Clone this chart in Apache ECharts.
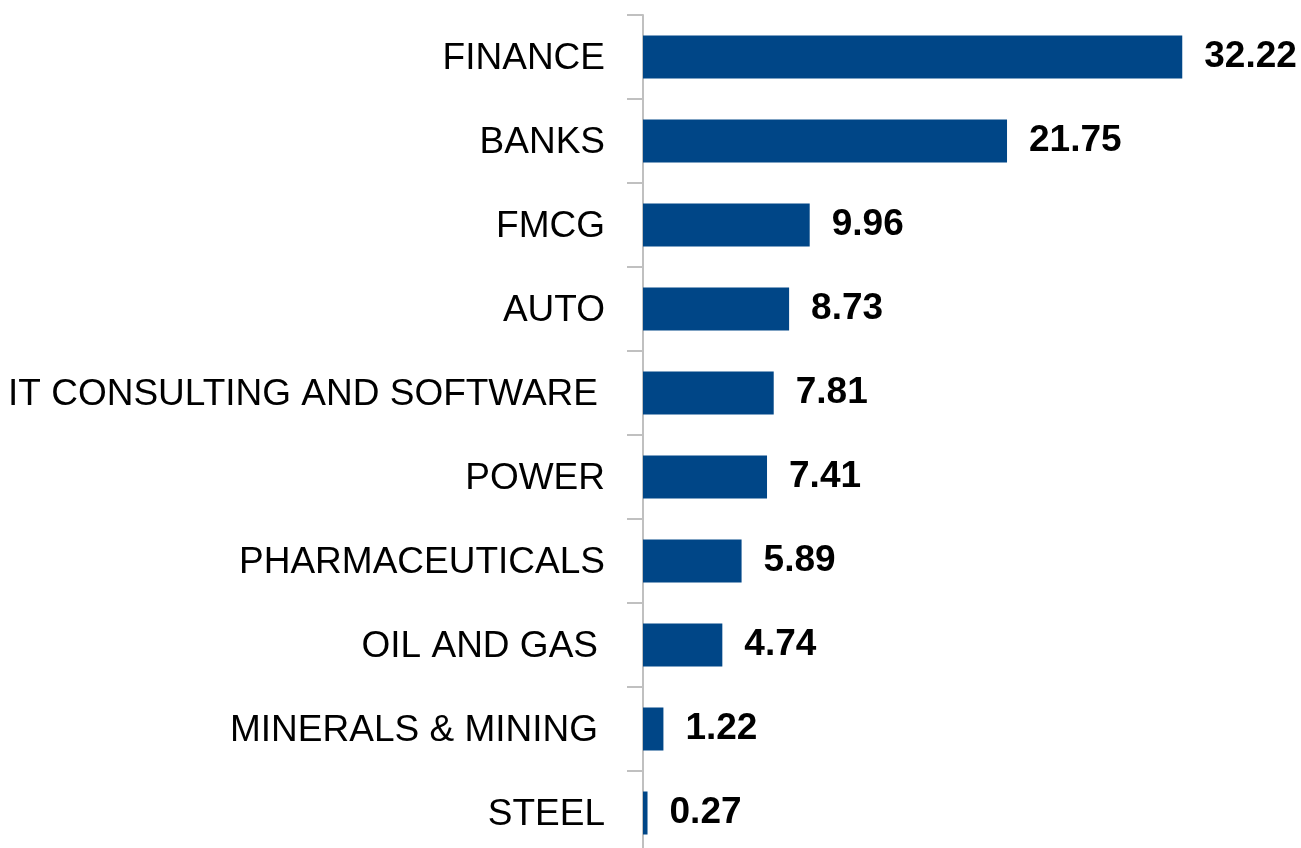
<!DOCTYPE html>
<html><head><meta charset="utf-8">
<script src="https://cdn.jsdelivr.net/npm/echarts@6/dist/echarts.min.js"></script>
<style>html,body{margin:0;padding:0;background:#fff}#c{width:1301px;height:848px}</style>
</head><body><div id="c"></div>
<script>
const categories = ["FINANCE","BANKS","FMCG","AUTO","IT CONSULTING AND SOFTWARE ","POWER","PHARMACEUTICALS","OIL AND GAS ","MINERALS & MINING ","STEEL"];
const values = [32.22,21.75,9.96,8.73,7.81,7.41,5.89,4.74,1.22,0.27];
const chart = echarts.init(document.getElementById('c'));
chart.setOption({
  animation:false,
  grid:{left:643,width:636,top:15,height:840,containLabel:false,outerBoundsMode:'none'},
  xAxis:{type:'value',min:0,max:38,show:false,splitLine:{show:false}},
  yAxis:{type:'category',data:categories,inverse:true,
    axisLine:{show:true,lineStyle:{color:'#c0c0c0',width:2}},
    axisTick:{show:true,length:16,lineStyle:{color:'#c0c0c0',width:2}},
    axisLabel:{margin:38,color:'#000',fontSize:37,fontFamily:'Liberation Sans',padding:[4,0,0,0],
      formatter:v=>v.endsWith(' ')?'{p|'+v.trim()+'}':v,
      rich:{p:{fontSize:37,fontFamily:'Liberation Sans',color:'#000',padding:[0,7,0,0]}}}},
  series:[{type:'bar',data:values,barWidth:43,itemStyle:{color:'#004687'},
    label:{show:true,position:'right',distance:22,color:'#000',fontSize:37,fontWeight:'bold',fontFamily:'Liberation Sans',padding:[3,0,0,0],
      formatter:p=>p.value.toFixed(2)}}]
});
</script></body></html>
